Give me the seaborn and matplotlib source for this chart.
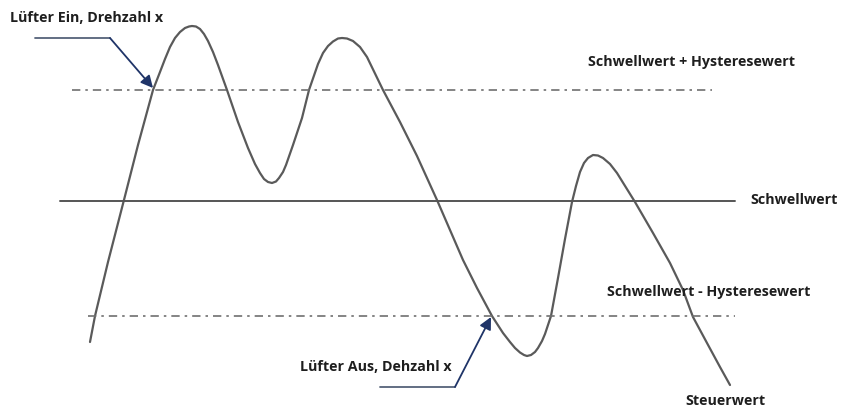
import matplotlib
matplotlib.use("Agg")
import matplotlib.pyplot as plt
import seaborn as sns
import pandas as pd

# Control value curve (image coordinates, y grows downward)
curve_x = [90, 95, 108, 125, 138, 153, 160, 165, 170, 175, 180, 185, 189, 192, 196, 200,
           204, 208, 213, 218, 227, 238, 248, 255, 260, 264, 268, 272, 276, 279, 283,
           286, 293, 302, 309, 318, 323, 328, 333, 338, 342, 347, 353, 360, 367, 383,
           400, 417, 437, 450, 463, 477, 492, 503, 510, 515, 520, 524, 527, 531, 535,
           538, 542, 545, 551, 558, 565, 572, 576, 580, 584, 588, 593, 598, 603, 610,
           617, 635, 653, 670, 683, 693, 707, 720, 730]
curve_y = [342, 316, 262, 196, 145, 90, 72, 59, 47, 38, 32, 28, 26.5, 26, 26.5, 29,
           34, 41, 52, 65, 90, 122, 148, 164, 173, 179, 182, 183, 181.5, 178, 172,
           165, 145, 118, 90, 64, 53, 46, 41.5, 38.5, 38, 38.5, 41, 47, 57, 90,
           122, 156, 200, 230, 260, 288, 316, 333, 342, 348, 352.5, 355, 356, 355, 352,
           348, 341, 334, 316, 278, 239, 202, 186, 172, 163, 158, 155, 155.5, 158, 164,
           173, 202, 233, 263, 290, 317, 343, 367, 385]

threshold = 201
upper_level = 90
lower_level = 316

label_on = "Lüfter Ein, Drehzahl x"
label_off = "Lüfter Aus, Dehzahl x"
label_upper = "Schwellwert + Hysteresewert"
label_thr = "Schwellwert"
label_lower = "Schwellwert - Hysteresewert"
label_curve = "Steuerwert"

sns.set_theme(style="white")
plt.rcParams['font.family'] = ['Open Sans', 'DejaVu Sans']

fig = plt.figure(figsize=(8.42, 4.09), dpi=100)
ax = fig.add_axes([0, 0, 1, 1])
ax.set_xlim(0, 842)
ax.set_ylim(409, 0)
ax.axis("off")

df = pd.DataFrame({"x": curve_x, "y": curve_y})
sns.lineplot(data=df, x="x", y="y", sort=False, ax=ax, color="#5a5a5a", linewidth=1.6)

# reference lines
ax.plot([60, 735], [threshold, threshold], color="#555555", linewidth=1.4)
ax.plot([72, 712], [upper_level, upper_level], color="#707070", linewidth=1.2,
        linestyle=(0, (5, 3, 1.5, 3)))
ax.plot([88, 735], [lower_level, lower_level], color="#707070", linewidth=1.2,
        linestyle=(0, (5, 3, 1.5, 3)))

# callout arrows
arrow_col = "#55627a"
ax.plot([35, 110], [38, 38], color=arrow_col, linewidth=1.3)
ax.annotate("", xy=(153, 88), xytext=(110, 38),
            arrowprops=dict(arrowstyle="-|>,head_length=0.6,head_width=0.3",
                            color=arrow_col, lw=1.3, fc="#1f3468", ec="#1f3468",
                            shrinkA=0, shrinkB=0))
ax.plot([380, 455], [387, 387], color=arrow_col, linewidth=1.3)
ax.annotate("", xy=(491, 317), xytext=(455, 387),
            arrowprops=dict(arrowstyle="-|>,head_length=0.6,head_width=0.3",
                            color=arrow_col, lw=1.3, fc="#1f3468", ec="#1f3468",
                            shrinkA=0, shrinkB=0))

txt = dict(color="#1e1e1e", fontsize=10.3, fontweight="bold", va="center", ha="left")
ax.text(10, 18, label_on, **txt)
ax.text(300, 367, label_off, **txt)
ax.text(588, 62, label_upper, **txt)
ax.text(750, 200, label_thr, **txt)
ax.text(607, 292, label_lower, **txt)
ax.text(685, 401, label_curve, **txt)

fig.savefig("out.png", dpi=100)
